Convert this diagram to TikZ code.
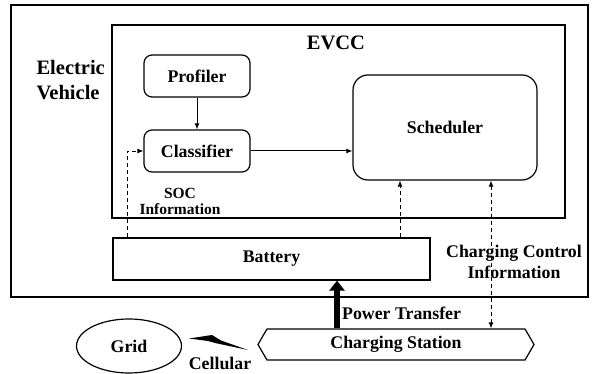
\documentclass[tikz,border=0pt]{standalone}
\usepackage{fontspec}
\setmainfont{Liberation Serif}
\usetikzlibrary{arrows.meta,calc,shapes.geometric,shapes.symbols}

\begin{document}
\begin{tikzpicture}[x=1pt,y=-1pt,
  lbl/.style={font=\fontsize{17.8}{21}\selectfont\bfseries},
  biglbl/.style={font=\fontsize{20.5}{25}\selectfont\bfseries},
  frame/.style={draw,line width=1.3pt,inner sep=0pt},
  blk/.style={draw,line width=1.2pt,rounded corners=8pt,inner sep=0pt,lbl},
  info/.style={dash pattern=on 4pt off 3pt,line width=0.9pt},
  tip/.style={-{Latex[length=6pt,width=5pt]}}]
  \useasboundingbox (0,0) rectangle (592,374);

  % --- Electric vehicle and EVCC frames ---
  \node[frame,minimum width=577pt,minimum height=292pt] (ev) at (299.5,151) {};
  \node[frame,minimum width=453pt,minimum height=193pt] (evcc) at (338.5,121.5) {};
  \node[biglbl,align=left,anchor=west] (evlbl) at (33,80) {Electric\\Vehicle};
  \node[biglbl] (evcclbl) at (336,43) {EVCC};

  % --- EVCC blocks ---
  \node[blk,minimum width=106pt,minimum height=42pt] (profiler) at (197,76) {Profiler};
  \node[blk,minimum width=106pt,minimum height=42pt] (classifier) at (197,151) {Classifier};
  \node[blk,rounded corners=15pt,minimum width=184pt,minimum height=105pt]
    (scheduler) at (445,127.5) {Scheduler};
  \node[draw,line width=1.2pt,lbl,minimum width=317pt,minimum height=42pt]
    (battery) at (271.5,259) {Battery};

  % --- outside the vehicle ---
  \node[draw,signal,signal to=west and east,signal pointer angle=120,line width=1.2pt,
    lbl,minimum width=276pt,minimum height=31pt,inner sep=0pt] (station) at (396,344.5) {Charging Station};
  \node[draw,ellipse,line width=1.2pt,lbl,minimum width=105pt,minimum height=54pt,
    inner sep=0pt] (grid) at (129,346) {Grid};
  % cellular link
  \fill (189,338.5) -- (212,335) -- (221,340.5) -- (248,350) -- (215,343) -- (208,341) -- cycle;

  % --- labels ---
  \node[font=\fontsize{15.5}{16}\selectfont\bfseries,align=center] (soclbl) at (180,201) {SOC\\Information};
  \node[lbl,align=center] (ccilbl) at (514,262) {Charging Control\\Information};
  \node[lbl,anchor=west,inner sep=0pt] (ptlbl) at (342,313) {Power Transfer};
  \node[lbl,inner sep=1pt] (cellbl) at (220,363) {Cellular};

  % --- connectors ---
  \draw[tip,line width=1pt] (profiler) -- (classifier);
  \draw[tip,line width=1pt] (classifier.east) -- (classifier.east -| scheduler.west);
  \draw[info,tip] (battery.north west) ++(15,0) |- (classifier.west);
  \coordinate (s1) at ($(scheduler.south)+(-45,0)$);
  \coordinate (s2) at ($(scheduler.south)+(46,0)$);
  \draw[info,tip] (s1 |- battery.north) -- (s1);
  \draw[info,{Latex[length=6pt,width=5pt]}-{Latex[length=6pt,width=5pt]}] (s2) -- (s2 |- station.north);
  \coordinate (p1) at ($(station.north)+(-59,0)$);
  \draw[line width=6pt,-{Triangle[width=15pt,length=10pt]}] (p1) -- (p1 |- battery.south);
\end{tikzpicture}
\end{document}
